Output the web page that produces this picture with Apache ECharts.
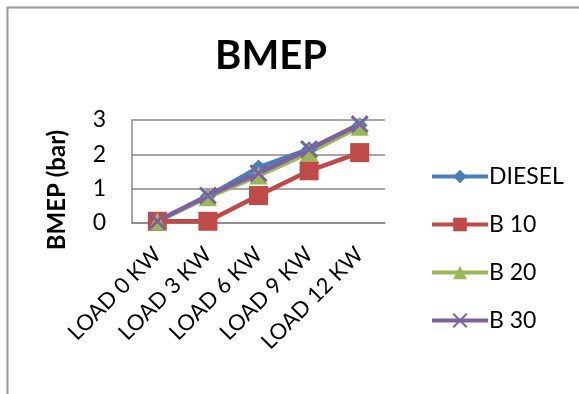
<!DOCTYPE html>
<html><head><meta charset="utf-8">
<script src="https://cdn.jsdelivr.net/npm/echarts@6/dist/echarts.min.js"></script>
<style>html,body{margin:0;padding:0;background:#fff}#c{width:579px;height:394px}</style>
</head><body><div id="c"></div>
<script>
const categories = ["LOAD 0 KW","LOAD 3 KW","LOAD 6 KW","LOAD 9 KW","LOAD 12 KW"];
const diesel = [0.05, 0.78, 1.62, 2.15, 2.85];
const b10 = [0.05, 0.05, 0.8, 1.52, 2.05];
const b20 = [0.05, 0.75, 1.38, 2.05, 2.8];
const b30 = [0.05, 0.8, 1.45, 2.15, 2.88];
const seriesNames = ["DIESEL","B 10","B 20","B 30"];
const yTitle = "BMEP (bar)";
const FONT = "Lato";
const chart = echarts.init(document.getElementById('c'));
const colors = ['#4a7ebb','#be4b48','#98b954','#7d60a0'];
const symbols = ['diamond','rect','triangle','path://M0,0 L10,10 M10,0 L0,10'];
const sizes = [16, 19, 18, 16];
const data = [diesel,b10,b20,b30];
chart.setOption({
  animation:false,
  color: colors,
  title:{text:'BMEP',left:266,top:31,textAlign:'center',textStyle:{fontFamily:FONT,fontSize:40,fontWeight:'bold',color:'#000'}},
  graphic:[
    {type:'polyline',shape:{points:[[7.5,394],[7.5,7.5],[579,7.5]]},style:{stroke:'#9a9a9a',lineWidth:2,fill:null}},
    {type:'text',x:57,y:190,rotation:Math.PI/2,style:{text:yTitle,fontFamily:FONT,fontSize:24,fontWeight:'bold',fill:'#000',align:'center',verticalAlign:'middle'}}
  ],
  legend:{orient:'vertical',left:425,top:160,itemGap:25,itemWidth:56,itemHeight:17,
    lineStyle:{width:4},
    textStyle:{fontFamily:FONT,fontSize:23,color:'#000',padding:[0,0,0,-4]},
    data:seriesNames},
  grid:{left:132,right:194,top:120,bottom:171},
  xAxis:{type:'category',data:categories,boundaryGap:true,
    axisLine:{lineStyle:{color:'#888',width:1.5}},axisTick:{show:false},
    axisLabel:{rotate:45,margin:28,fontFamily:FONT,fontSize:22,color:'#000'}},
  yAxis:{type:'value',min:0,max:3,interval:1,
    axisLine:{show:true,lineStyle:{color:'#888',width:1.5}},axisTick:{show:false},
    splitLine:{lineStyle:{color:'#888',width:1.5}},
    axisLabel:{fontFamily:FONT,fontSize:23,color:'#000',margin:26}},
  series: seriesNames.map((n,i)=>({name:n,type:'line',data:data[i],symbol:symbols[i],
    symbolSize: sizes[i],
    lineStyle:{width:4.5,color:colors[i]},
    itemStyle:{color:colors[i],borderColor:colors[i],borderWidth:i===3?3:0}}))
});
</script></body></html>
